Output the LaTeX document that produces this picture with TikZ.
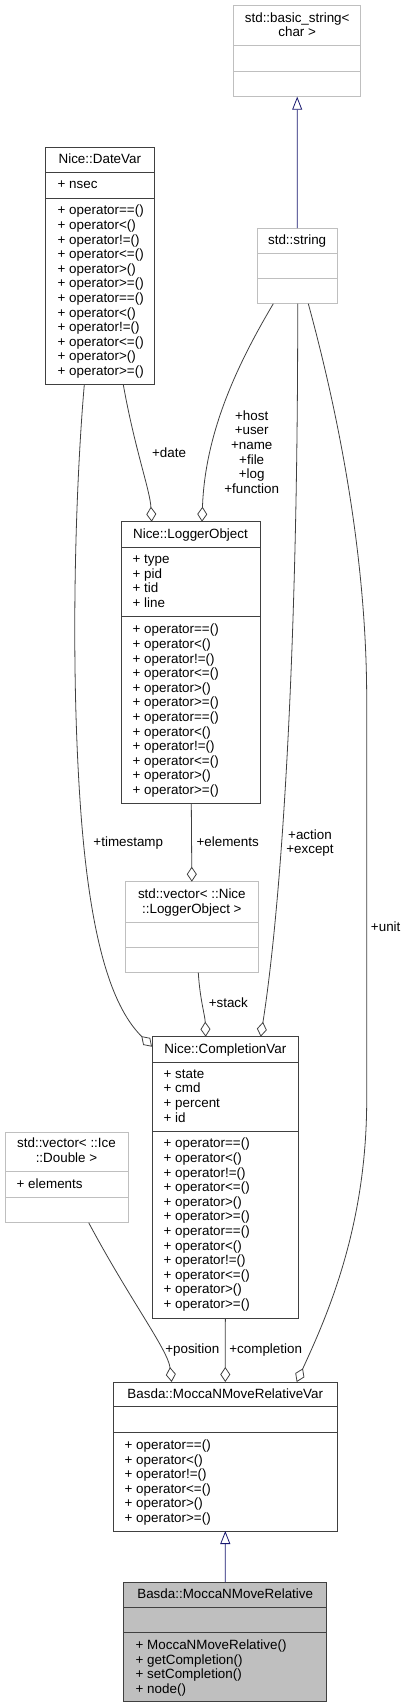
\documentclass[tikz,border=0pt]{standalone}
\usepackage{fontspec}
\setmainfont{Liberation Sans}
\usetikzlibrary{arrows.meta}
\definecolor{edgegray}{HTML}{404040}
\definecolor{boxgray}{HTML}{BFBFBF}
\definecolor{inhblue}{HTML}{191970}
\newcommand\umlbox[6]{% name, style, x1, y1, x2, y2
  \node[#2, anchor=north west, minimum width={#5-#3}, minimum height={#6-#4}] (#1) at (#3,#4) {};}
\newcommand\sepline[3]{\draw[#3] (#1.west |- 0,#2) -- (#1.east |- 0,#2);}
\newcommand\txtlines[5]{% prefix, x, first baseline, list, anchor
  \foreach \t [count=\i from 0] in #4 {\node[anchor=#5] (#1-\i) at (#2,{#3+\i*14.6}) {\t};}}
\def\opsall{+ operator==(),+ operator<(),+ operator!=(),+ operator<=(),+ operator>(),+ operator>=(),+ operator==(),+ operator<(),+ operator!=(),+ operator<=(),+ operator>(),+ operator>=()}
\def\opshalf{+ operator==(),+ operator<(),+ operator!=(),+ operator<=(),+ operator>(),+ operator>=()}
\begin{document}
\begin{tikzpicture}[x=1pt,y=-1pt,
  every node/.style={font=\fontsize{13.4}{14.6}\selectfont, inner sep=0pt, outer sep=0pt},
  cls/.style={draw=edgegray, line width=1pt, fill=white, rectangle},
  ext/.style={draw=boxgray, line width=1pt, fill=white, rectangle},
  cur/.style={draw=edgegray, line width=1pt, fill=boxgray, rectangle},
  agg/.style={draw=edgegray, line width=0.8pt, -{Diamond[open,length=15pt,width=10pt]}},
  inh/.style={draw=inhblue, line width=0.8pt, -{Triangle[open,length=13pt,width=10pt]}},
]
\useasboundingbox (0,0) rectangle (405,1708);

% boxes
\umlbox{bstr}{ext}{233.7}{5.7}{360.7}{96.7}
\sepline{bstr}{45.7}{boxgray,line width=1pt}
\sepline{bstr}{71}{boxgray,line width=1pt}
\txtlines{bstrt}{297.2}{22.2}{{std::basic\_string<,char >}}{base}

\umlbox{date}{cls}{45.7}{147.3}{154}{384.7}
\sepline{date}{172.7}{edgegray,line width=1pt}
\sepline{date}{198}{edgegray,line width=1pt}
\node[anchor=base] (datet) at (99.85,163.5) {Nice::DateVar};
\node[anchor=base west] (datea) at (57.7,188.8) {+ nsec};
\txtlines{dateo}{57.7}{214.8}{\opsall}{base west}

\umlbox{str}{ext}{257}{228}{337.3}{303.7}
\sepline{str}{253.3}{boxgray,line width=1pt}
\sepline{str}{278.7}{boxgray,line width=1pt}
\node[anchor=base] (strt) at (297.15,244.5) {std::string};

\umlbox{log}{cls}{121}{521.7}{260}{803.3}
\sepline{log}{547}{edgegray,line width=1pt}
\sepline{log}{616.7}{edgegray,line width=1pt}
\node[anchor=base] (logt) at (190.5,538.5) {Nice::LoggerObject};
\txtlines{loga}{132.7}{563.5}{{+ type,+ pid,+ tid,+ line}}{base west}
\txtlines{logo}{132.7}{633.8}{\opsall}{base west}

\umlbox{vlog}{ext}{125.7}{881.7}{258}{972.7}
\sepline{vlog}{922}{boxgray,line width=1pt}
\sepline{vlog}{947}{boxgray,line width=1pt}
\txtlines{vlogt}{191.85}{898.5}{{std::vector< ::Nice,::LoggerObject >}}{base}

\umlbox{comp}{cls}{152}{1036.7}{298.7}{1318}
\sepline{comp}{1062}{edgegray,line width=1pt}
\sepline{comp}{1131.3}{edgegray,line width=1pt}
\node[anchor=base] (compt) at (225.35,1053.2) {Nice::CompletionVar};
\txtlines{compa}{163.7}{1078.2}{{+ state,+ cmd,+ percent,+ id}}{base west}
\txtlines{compo}{163.7}{1147.8}{\opsall}{base west}

\umlbox{vdbl}{ext}{5}{1132}{128}{1222.7}
\sepline{vdbl}{1171.3}{boxgray,line width=1pt}
\sepline{vdbl}{1197.3}{boxgray,line width=1pt}
\txtlines{vdblt}{66.5}{1147.8}{{std::vector< ::Ice,::Double >}}{base}
\node[anchor=base west] (vdbla) at (16.7,1188.2) {+ elements};

\umlbox{var}{cls}{113.3}{1382}{337.3}{1531}
\sepline{var}{1406.7}{edgegray,line width=1pt}
\sepline{var}{1432.7}{edgegray,line width=1pt}
\node[anchor=base] (vart) at (225.3,1398.2) {Basda::MoccaNMoveRelativeVar};
\txtlines{varo}{124.7}{1449.5}{\opshalf}{base west}

\umlbox{rel}{cur}{123.7}{1582}{326.7}{1701.7}
\sepline{rel}{1607}{edgegray,line width=1pt}
\sepline{rel}{1632.3}{edgegray,line width=1pt}
\node[anchor=base] (relt) at (225.2,1598.2) {Basda::MoccaNMoveRelative};
\txtlines{relo}{135.7}{1649.5}{{+ MoccaNMoveRelative(),+ getCompletion(),+ setCompletion(),+ node()}}{base west}

% inheritance
\draw[inh] (str.north) -- (bstr.south);
\draw[inh] (rel.north) -- (var.south);

% aggregations
\draw[agg] ([xshift=23.45pt]date.south) .. controls (135,450) and (150,490) .. ([xshift=-38.8pt]log.north);
\draw[agg] ([xshift=-23.85pt]str.south) .. controls (240,360) and (205,430) .. ([xshift=11.5pt]log.north);
\draw[agg] ([xshift=-15.55pt]date.south) .. controls (76,480) and (70,650) .. (80,800) .. controls (90,950) and (115,1010) .. ([yshift=-10pt]comp.north west);
\draw[agg] ([xshift=0.8pt]log.south) -- (vlog.north);
\draw[agg] ([xshift=6.45pt]vlog.south) .. controls (200,1000) and (205,1015) .. ([xshift=-19.65pt]comp.north);
\draw[agg] ([xshift=0.55pt]str.south) .. controls (298,650) and (282,900) .. ([xshift=35.35pt]comp.north);
\draw[agg] ([xshift=11.15pt]str.south) .. controls (340,420) and (366.7,560) .. (366.7,700) -- (366.7,1100) .. controls (366.7,1230) and (325,1320) .. ([xshift=71.4pt]var.north);
\draw[agg] ([xshift=22.2pt]vdbl.south) .. controls (130,1300) and (168,1350) .. ([xshift=-53.6pt]var.north);
\draw[agg] (comp.south) -- (var.north);

% labels
\node[anchor=base] (ldate) at (169,457.2) {+date};
\txtlines{lhost}{251.7}{420.2}{{+host,+user,+name,+file,+log,+function}}{base}
\node[anchor=base] (lts) at (128.3,846.2) {+timestamp};
\node[anchor=base] (lel) at (227.7,846.2) {+elements};
\txtlines{lact}{310}{839.2}{{+action,+except}}{base}
\node[anchor=base] (lunit) at (385.7,931.2) {+unit};
\node[anchor=base] (lstack) at (228.3,1007.8) {+stack};
\node[anchor=base] (lpos) at (192.3,1353.2) {+position};
\node[anchor=base] (lcomp) at (265.7,1353.2) {+completion};
\end{tikzpicture}
\end{document}
